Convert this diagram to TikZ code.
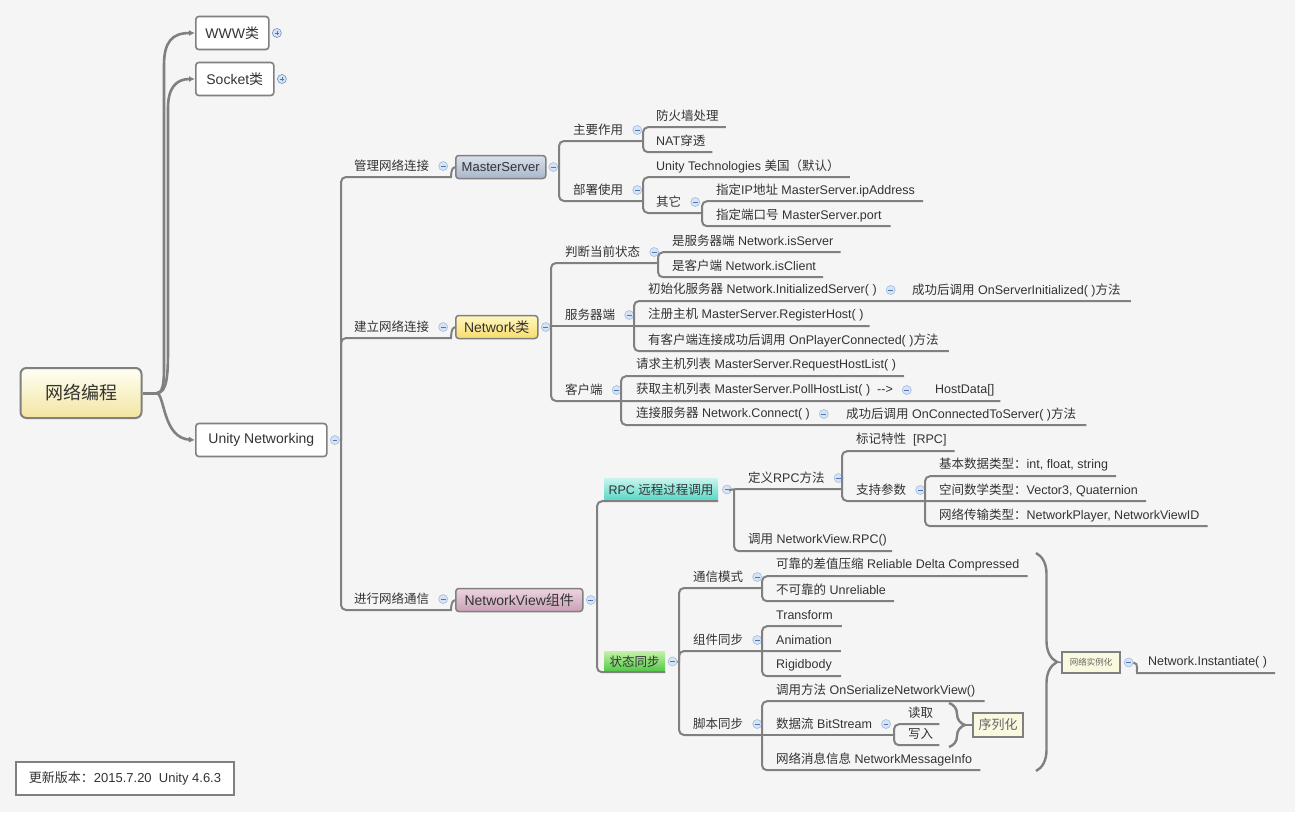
\documentclass[tikz,border=0pt]{standalone}
\usepackage{fontspec}
\setmainfont{Liberation Sans}
\newfontfamily\zhfont{Noto Sans CJK SC}
\newcommand{\zh}[1]{{\zhfont #1}}
\usetikzlibrary{positioning,arrows.meta,decorations.pathreplacing}
\definecolor{bg}{HTML}{F5F5F5}
\definecolor{linegray}{HTML}{808080}
\definecolor{txtgray}{HTML}{333333}
\definecolor{icofill}{HTML}{D5E3F5}
\definecolor{icodraw}{HTML}{A3BCE0}
\definecolor{icoline}{HTML}{4F77B0}
\definecolor{notefill}{HTML}{FAF8DF}

\begin{document}
\begin{tikzpicture}[x=1pt, y=-1pt,
    every node/.style={text=txtgray},
    rootbox/.style={draw=linegray, line width=2pt, rounded corners=6pt, top color=yellow!4!white, bottom color={rgb,255:red,243;green,229;blue,160}, minimum width=121pt, minimum height=50pt, font=\fontsize{18}{20}\selectfont},
    topbox/.style={draw=linegray, line width=1.6pt, rounded corners=3pt, fill=white, anchor=west, minimum height=33pt, inner xsep=9pt, font=\fontsize{14}{16}\selectfont},
    box/.style={draw=linegray, line width=1.5pt, rounded corners=3pt, anchor=west, minimum height=23pt, inner xsep=5pt, font=\fontsize{14}{16}\selectfont},
    colorbox/.style={inner sep=0pt, font=\fontsize{12.5}{14}\selectfont},
    notebox/.style={draw=linegray, line width=1.6pt, fill=notefill, inner sep=2pt, text=gray!80!black},
    leaf/.style={anchor=west, inner sep=0pt, minimum height=22pt, font=\fontsize{12.5}{14}\selectfont},
    minus/.style={circle, inner sep=0pt, minimum size=9pt, draw=icodraw, fill=icofill, line width=0.6pt,
        path picture={\draw[icoline, line width=0.8pt] ([xshift=-2.4pt]path picture bounding box.center) -- ([xshift=2.4pt]path picture bounding box.center);}},
    plus/.style={minus, draw=icoline!80,
        path picture={\draw[icoline, line width=0.8pt] ([xshift=-2.4pt]path picture bounding box.center) -- ([xshift=2.4pt]path picture bounding box.center)
            ([yshift=-2.4pt]path picture bounding box.center) -- ([yshift=2.4pt]path picture bounding box.center);}},
    link/.style={draw=linegray, line width=2pt, rounded corners=5pt},
    rootlink/.style={draw=linegray, line width=2.6pt, -{Latex[length=6pt,width=6pt]}},
    bracel/.style={draw=linegray, line width=2.4pt, decorate, decoration={brace, amplitude=#1}}]

    \useasboundingbox (0,0) rectangle (1295,812);
    \fill[bg] (0,0) rectangle (1295,812);

    \node[rootbox] (root) at (81,393) {\zh{网络编程}};
    \node[topbox, minimum width=73pt] (www) at (195,33) {WWW\zh{类}};
    \node[plus] (wwwp) [right=2.5pt of www] {};
    \node[topbox, minimum width=78pt] (sock) at (195,79) {Socket\zh{类}};
    \node[plus] (sockp) [right=2.5pt of sock] {};
    \node[topbox, minimum width=131pt] (un) at (195,440) {Unity Networking};
    \node[minus] (unm) [right=2.5pt of un] {};

    \node[leaf] (l1) at (354,166) {\zh{管理网络连接}};
    \node[minus] (l1m) [right=9pt of l1] {};
    \node[leaf] (l2) at (354,327) {\zh{建立网络连接}};
    \node[minus] (l2m) [right=9pt of l2] {};
    \node[leaf] (l3) at (354,599) {\zh{进行网络通信}};
    \node[minus] (l3m) [right=9pt of l3] {};

    \node[box, minimum width=90pt, inner xsep=4pt, font=\fontsize{13}{15}\selectfont, top color={rgb,255:red,218;green,225;blue,236}, bottom color={rgb,255:red,168;green,182;blue,203}] (ms) at (455,167) {MasterServer};
    \node[minus] (msm) [right=2pt of ms] {};
    \node[box, minimum width=82pt, top color={rgb,255:red,255;green,247;blue,192}, bottom color={rgb,255:red,248;green,220;blue,106}] (nw) at (455,327) {Network\zh{类}};
    \node[minus] (nwm) [right=2.5pt of nw] {};
    \node[box, minimum width=127pt, top color={rgb,255:red,236;green,212;blue,224}, bottom color={rgb,255:red,201;green,160;blue,181}] (nv) at (455,600) {NetworkView\zh{组件}};
    \node[minus] (nvm) [right=2.5pt of nv] {};

    \node[leaf] (a1) at (573,130) {\zh{主要作用}};
    \node[minus] (a1m) [right=9pt of a1] {};
    \node[leaf] (a11) at (656,116) {\zh{防火墙处理}};
    \node[leaf] (a12) at (656,141) {NAT\zh{穿透}};
    \node[leaf] (a2) at (573,190) {\zh{部署使用}};
    \node[minus] (a2m) [right=9pt of a2] {};
    \node[leaf] (a21) at (656,166) {Unity Technologies \zh{美国（默认）}};
    \node[leaf] (a22) at (656,202) {\zh{其它}};
    \node[minus] (a22m) [right=9pt of a22] {};
    \node[leaf] (a221) at (716,190) {\zh{指定}IP\zh{地址} MasterServer.ipAddress};
    \node[leaf] (a222) at (716,215) {\zh{指定端口号} MasterServer.port};

    \node[leaf] (b1) at (565,252) {\zh{判断当前状态}};
    \node[minus] (b1m) [right=9pt of b1] {};
    \node[leaf] (b11) at (672,241) {\zh{是服务器端} Network.isServer};
    \node[leaf] (b12) at (672,266) {\zh{是客户端} Network.isClient};
    \node[leaf] (b2) at (565,315) {\zh{服务器端}};
    \node[minus] (b2m) [right=9pt of b2] {};
    \node[leaf] (b21) at (648,290) {\zh{初始化服务器} Network.InitializedServer( )};
    \node[minus] (b21m) [right=9pt of b21] {};
    \node[leaf] (b211) at (912,290) {\zh{成功后调用} OnServerInitialized( )\zh{方法}};
    \node[leaf] (b22) at (648,315) {\zh{注册主机} MasterServer.RegisterHost( )};
    \node[leaf] (b23) at (648,340) {\zh{有客户端连接成功后调用} OnPlayerConnected( )\zh{方法}};
    \node[leaf] (b3) at (565,390) {\zh{客户端}};
    \node[minus] (b3m) [right=9pt of b3] {};
    \node[leaf] (b31) at (636,365) {\zh{请求主机列表} MasterServer.RequestHostList( )};
    \node[leaf] (b32) at (636,390) {\zh{获取主机列表} MasterServer.PollHostList( )\ \ -{}-{}>};
    \node[minus] (b32m) [right=9pt of b32] {};
    \node[leaf] (b321) at (935,390) {HostData[]};
    \node[leaf] (b33) at (636,414) {\zh{连接服务器} Network.Connect( )};
    \node[minus] (b33m) [right=9pt of b33] {};
    \node[leaf] (b331) at (846,414) {\zh{成功后调用} OnConnectedToServer( )\zh{方法}};

    \node[colorbox, minimum width=114pt, minimum height=23pt, top color={rgb,255:red,200;green,245;blue,238}, bottom color={rgb,255:red,85;green,214;blue,198}] (rpc) at (661,489.5) {RPC \zh{远程过程调用}};
    \node[minus] (rpcm) [right=4pt of rpc] {};
    \node[leaf] (c1) at (748,478) {\zh{定义}RPC\zh{方法}};
    \node[minus] (c1m) [right=9pt of c1] {};
    \node[leaf] (c11) at (856,440) {\zh{标记特性}\ \ [RPC]};
    \node[leaf] (c12) at (856,490) {\zh{支持参数}};
    \node[minus] (c12m) [right=9pt of c12] {};
    \node[leaf] (c121) at (939,465) {\zh{基本数据类型：}int, float, string};
    \node[leaf] (c122) at (939,490) {\zh{空间数学类型：}Vector3, Quaternion};
    \node[leaf] (c123) at (939,515) {\zh{网络传输类型：}NetworkPlayer, NetworkViewID};
    \node[leaf] (c2) at (748,540) {\zh{调用} NetworkView.RPC()};

    \node[colorbox, minimum width=61pt, minimum height=21pt, top color={rgb,255:red,198;green,242;blue,168}, bottom color={rgb,255:red,76;green,199;blue,67}] (sync) at (634.5,661.5) {\zh{状态同步}};
    \node[minus] (syncm) [right=2.5pt of sync] {};
    \node[leaf] (d1) at (693,577) {\zh{通信模式}};
    \node[minus] (d1m) [right=9pt of d1] {};
    \node[leaf] (d11) at (776,565) {\zh{可靠的差值压缩} Reliable Delta Compressed};
    \node[leaf] (d12) at (776,590) {\zh{不可靠的} Unreliable};
    \node[leaf] (d2) at (693,640) {\zh{组件同步}};
    \node[minus] (d2m) [right=9pt of d2] {};
    \node[leaf] (d21) at (776,615) {Transform};
    \node[leaf] (d22) at (776,640) {Animation};
    \node[leaf] (d23) at (776,665) {Rigidbody};
    \node[leaf] (d3) at (693,724) {\zh{脚本同步}};
    \node[minus] (d3m) [right=9pt of d3] {};
    \node[leaf] (d31) at (776,690) {\zh{调用方法} OnSerializeNetworkView()};
    \node[leaf] (d32) at (776,724) {\zh{数据流} BitStream};
    \node[minus] (d32m) [right=9pt of d32] {};
    \node[leaf] (d321) at (908,713) {\zh{读取}};
    \node[leaf] (d322) at (908,734) {\zh{写入}};
    \node[leaf] (d33) at (776,759) {\zh{网络消息信息} NetworkMessageInfo};

    \node[notebox, minimum width=50pt, minimum height=24pt, font=\fontsize{13}{15}\selectfont] (ser) at (998,725) {\zh{序列化}};
    \node[notebox, minimum width=58pt, minimum height=21pt, font=\fontsize{8.5}{10}\selectfont] (inst) at (1091,662.5) {\zh{网络实例化}};
    \node[minus] (instm) [right=3pt of inst] {};
    \node[leaf] (ni) at (1148,662) {Network.Instantiate( )};

    \node[draw=linegray, line width=1.5pt, fill=white, minimum width=218pt, minimum height=33pt, font=\fontsize{13}{15}\selectfont] (ver) at (125,778.5) {\zh{更新版本：}2015.7.20\ \ Unity 4.6.3};

    \coordinate (rj) at (157,393);
    \coordinate (uj) at (341,440);
    \coordinate (l1e) at (446,177);
    \coordinate (l2e) at (446,338);
    \coordinate (l3e) at (446,610);
    \coordinate (msj) at (559,167);
    \coordinate (a1e) at (643,141);
    \coordinate (a2e) at (643,201);
    \coordinate (a22e) at (702,213);
    \coordinate (nwj) at (551,326);
    \coordinate (b1e) at (658,263);
    \coordinate (b2e) at (634,326);
    \coordinate (b21e) at (898,301);
    \coordinate (b3e) at (621,401);
    \coordinate (b32e) at (921,401);
    \coordinate (b33e) at (833,425);
    \coordinate (nvj) at (597,600);
    \coordinate (rpcj) at (734,489);
    \coordinate (c1e) at (842,489);
    \coordinate (c12e) at (925,501);
    \coordinate (sj) at (679,662);
    \coordinate (d1e) at (762,588);
    \coordinate (d2e) at (762,651);
    \coordinate (d3e) at (762,735);
    \coordinate (d32e) at (894,735);
    \coordinate (sbt) at (965,725);
    \coordinate (bbt) at (1057,662);
    \coordinate (ij) at (1142,673);

    \draw[draw=linegray, line width=3pt] (root.east) -- (rj);
    \draw[rootlink] (rj) .. controls (165,393) and (164,375) .. (164,350) -- (164,65) .. controls (164,42) and (172,33) .. (www.west);
    \draw[rootlink] (rj) .. controls (167,393) and (168,375) .. (168,350) -- (168,108) .. controls (168,88) and (176,79) .. (sock.west);
    \draw[rootlink] (rj) .. controls (165,396) and (163,438) .. (un.west);

    \draw[link] (unm.east) -- (uj);
    \draw[link] (uj) |- (l1e) .. controls +(5,0) and +(-4,0) .. (ms.west);
    \draw[link] (uj) |- (l2e) .. controls +(5,0) and +(-4,0) .. (nw.west);
    \draw[link] (uj) |- (l3e) .. controls +(5,0) and +(-4,0) .. (nv.west);

    \draw[link] (msm.east) -- (msj);
    \draw[link] (msj) |- (a1e);
    \draw[link] (msj) |- (a2e);
    \draw[link] (a1e) |- ([xshift=7pt]a11.south east);
    \draw[link] (a1e) |- ([xshift=7pt]a12.south east);
    \draw[link] (a2e) |- ([xshift=10pt]a21.south east);
    \draw[link] (a2e) |- (a22e);
    \draw[link] (a22e) |- ([xshift=8pt]a221.south east);
    \draw[link] (a22e) |- ([xshift=9pt]a222.south east);

    \draw[link] (nwm.east) -- (nwj);
    \draw[link] (nwj) |- (b1e);
    \draw[link] (nwj) -- (b2e);
    \draw[link] (nwj) |- (b3e);
    \draw[link] (b1e) |- ([xshift=7pt]b11.south east);
    \draw[link] (b1e) |- ([xshift=7pt]b12.south east);
    \draw[link] (b2e) |- (b21e) -- ([xshift=10pt]b211.south east);
    \draw[link] (b2e) -- ([xshift=6pt]b22.south east);
    \draw[link] (b2e) |- ([xshift=10pt]b23.south east);
    \draw[link] (b3e) |- ([xshift=8pt]b31.south east);
    \draw[link] (b3e) -- (b32e) -- ([xshift=6pt]b321.south east);
    \draw[link] (b3e) |- (b33e) -- ([xshift=10pt]b331.south east);

    \draw[link] (nvm.east) -- (nvj);
    \draw[link] (nvj) |- (rpc.south east);
    \draw[link] (nvj) |- (sync.south east);
    \draw[link] (rpcm.east) -- (rpcj) -- (c1e);
    \draw[link] (rpcj) |- ([xshift=5pt]c2.south east);
    \draw[link] (c1e) |- ([xshift=8pt]c11.south east);
    \draw[link] (c1e) |- (c12e);
    \draw[link] (c12e) |- ([xshift=8pt]c121.south east);
    \draw[link] (c12e) -- ([xshift=8pt]c122.south east);
    \draw[link] (c12e) |- ([xshift=8pt]c123.south east);

    \draw[link] (syncm.east) -- (sj);
    \draw[link] (sj) |- (d1e);
    \draw[link] (sj) |- (d2e);
    \draw[link] (sj) |- (d3e);
    \draw[link] (d1e) |- ([xshift=8pt]d11.south east);
    \draw[link] (d1e) |- ([xshift=8pt]d12.south east);
    \draw[link] (d2e) |- ([xshift=9pt]d21.south east);
    \draw[link] (d2e) -- ([xshift=9pt]d22.south east);
    \draw[link] (d2e) |- ([xshift=9pt]d23.south east);
    \draw[link] (d3e) |- ([xshift=9pt]d31.south east);
    \draw[link] (d3e) -- (d32e);
    \draw[link] (d3e) |- ([xshift=8pt]d33.south east);
    \draw[link] (d32e) |- ([xshift=6pt]d321.south east);
    \draw[link] (d32e) |- ([xshift=6pt]d322.south east);

    \draw[bracel=16pt] (949,703) -- (949,747);
    \draw[bracel=21pt] (1036,553) -- (1036,771);
    \draw[link, line width=1.5pt] (sbt) -- (ser.west);
    \draw[link, line width=1.5pt] (bbt) -- (inst.west);
    \draw[link] (instm.east) .. controls +(6,0) and +(-6,0) .. (ij) -- ([xshift=8pt]ni.south east);

\end{tikzpicture}
\end{document}
